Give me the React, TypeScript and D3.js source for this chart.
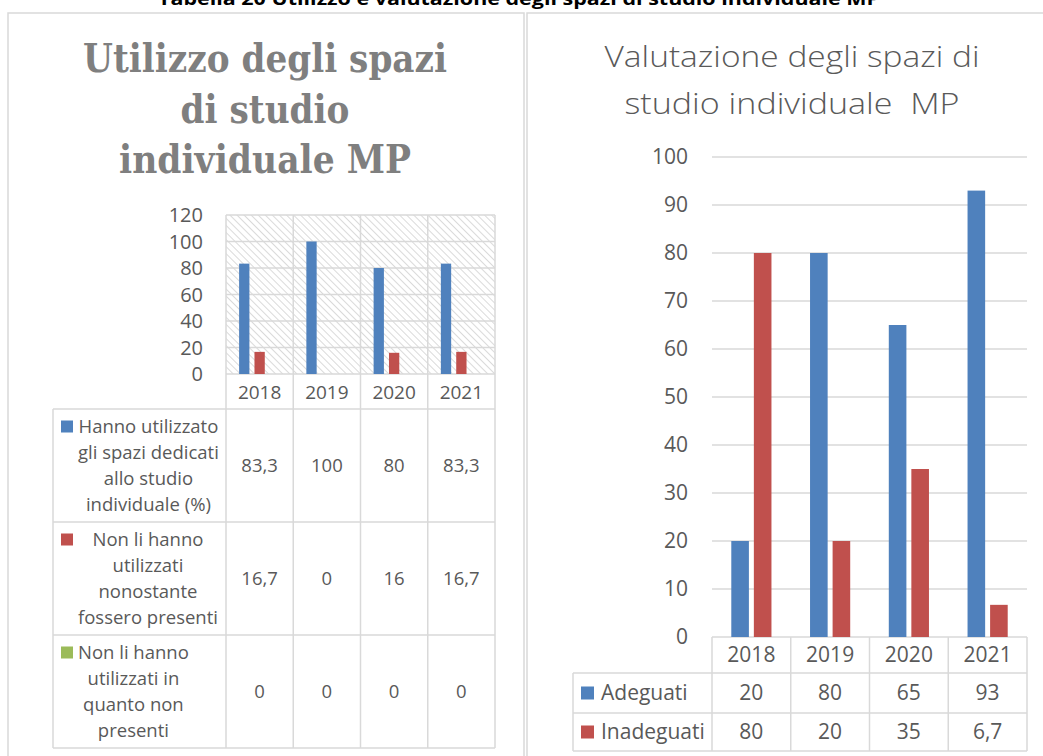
import React, { useRef, useEffect } from "react";
import * as d3 from "d3";

// dati
const years = ["2018", "2019", "2020", "2021"];

const usoKeys = ["utilizzato", "nonUtilizzati", "nonPresenti"];
const usoUtilizzato = [83.3, 100, 80, 83.3];
const usoNonUtilizzati = [16.7, 0, 16, 16.7];
const usoNonPresenti = [0, 0, 0, 0];
const usoLabels = [
  ["Hanno utilizzato", "gli spazi dedicati", "allo studio", "individuale (%)"],
  ["Non li hanno", "utilizzati", "nonostante", "fossero presenti"],
  ["Non li hanno", "utilizzati in", "quanto non", "presenti"],
];
const usoTicks = [0, 20, 40, 60, 80, 100, 120];

const valKeys = ["adeguati", "inadeguati"];
const valAdeguati = [20, 80, 65, 93];
const valInadeguati = [80, 20, 35, 6.7];
const valLabels = ["Adeguati", "Inadeguati"];
const valTicks = [0, 10, 20, 30, 40, 50, 60, 70, 80, 90, 100];

const BLUE = "#4F81BD";
const RED = "#C0504D";
const GREEN = "#9BBB59";
const GRID = "#d9d9d9";
const TXT = "#595959";
const FONT = "'Open Sans', 'Liberation Sans', sans-serif";

const fmt = (v: number) => String(v).replace(".", ",");

const App = () => {
  const svgRef = useRef<SVGSVGElement | null>(null);

  useEffect(() => {
    if (!svgRef.current) return;
    const svg = d3.select(svgRef.current);
    svg.selectAll("*").remove();

    // pattern tratteggio
    const defs = svg.append("defs");
    const pat = defs
      .append("pattern")
      .attr("id", "hatch")
      .attr("width", 5)
      .attr("height", 5)
      .attr("patternUnits", "userSpaceOnUse")
      .attr("patternTransform", "rotate(-45)");
    pat.append("rect").attr("width", 5).attr("height", 5).attr("fill", "#fff");
    pat
      .append("line")
      .attr("x1", 0)
      .attr("y1", 0)
      .attr("x2", 0)
      .attr("y2", 5)
      .attr("stroke", "#dadada")
      .attr("stroke-width", 2);

    // titolo generale (tagliato in alto come nell'originale)
    svg
      .append("text")
      .attr("x", 519)
      .attr("y", 5)
      .attr("text-anchor", "middle")
      .attr("textLength", 722)
      .attr("lengthAdjust", "spacingAndGlyphs")
      .style("font-family", FONT)
      .style("font-weight", "bold")
      .style("font-size", "17px")
      .style("fill", "#000")
      .text("Tabella 20 Utilizzo e valutazione degli spazi di studio individuale MP");

    // cornici pannelli
    const frame = (x1: number, x2: number) => {
      svg
        .append("path")
        .attr("d", `M${x1},760V13H${x2}V760`)
        .attr("fill", "none")
        .attr("stroke", GRID)
        .attr("stroke-width", 1.5);
    };
    frame(8, 524);
    frame(527, 1046);

    // ===== pannello sinistro =====
    const left = svg.append("g");
    const ltitle = [
      ["Utilizzo degli spazi", 72, 364],
      ["di studio", 123, 169],
      ["individuale MP", 173, 292],
    ] as [string, number, number][];
    ltitle.forEach(([t, y, w]) => {
      left
        .append("text")
        .attr("x", 265)
        .attr("y", y)
        .attr("text-anchor", "middle")
        .attr("textLength", w)
        .attr("lengthAdjust", "spacingAndGlyphs")
        .style("font-family", "'DejaVu Serif', 'Liberation Serif', serif")
        .style("font-weight", "bold")
        .style("font-size", "40px")
        .style("fill", "#7f7f7f")
        .text(t);
    });

    const lx = d3.scaleBand().domain(years).range([226, 495]);
    const ly = d3.scaleLinear().domain([0, 120]).range([374, 215]);
    const lbw = lx.bandwidth();
    const lsub = d3
      .scaleBand()
      .domain(usoKeys)
      .range([lbw * 0.195, lbw * 0.805])
      .paddingInner(0.33);

    left
      .append("rect")
      .attr("x", 226)
      .attr("y", ly(120))
      .attr("width", 495 - 226)
      .attr("height", ly(0) - ly(120))
      .attr("fill", "url(#hatch)");

    left
      .selectAll(".grid")
      .data(usoTicks)
      .enter()
      .append("line")
      .attr("x1", 226)
      .attr("x2", 495)
      .attr("y1", (d) => ly(d))
      .attr("y2", (d) => ly(d))
      .attr("stroke", GRID)
      .attr("stroke-width", 1.5);

    left
      .selectAll(".tick")
      .data(usoTicks)
      .enter()
      .append("text")
      .attr("x", 203)
      .attr("y", (d) => ly(d))
      .attr("dy", "0.35em")
      .attr("text-anchor", "end")
      .style("font-family", FONT)
      .style("font-size", "20px")
      .style("fill", TXT)
      .text((d) => d);

    const usoData = years.map((y, i) => ({
      year: y,
      utilizzato: usoUtilizzato[i],
      nonUtilizzati: usoNonUtilizzati[i],
      nonPresenti: usoNonPresenti[i],
    }));
    const usoColors = [BLUE, RED, GREEN];

    usoKeys.forEach((k, si) => {
      left
        .selectAll(`.bar-${k}`)
        .data(usoData)
        .enter()
        .append("rect")
        .attr("x", (d) => (lx(d.year) as number) + (lsub(k) as number))
        .attr("width", lsub.bandwidth())
        .attr("y", (d: any) => ly(d[k]))
        .attr("height", (d: any) => ly(0) - ly(d[k]))
        .attr("fill", usoColors[si]);
    });

    // tabella dati sinistra
    const lRows = [409, 522, 635, 748];
    const lCols = [226, ...years.map((y) => (lx(y) as number) + lbw)];
    const tl = (x1: number, y1: number, x2: number, y2: number) =>
      left
        .append("line")
        .attr("x1", x1)
        .attr("y1", y1)
        .attr("x2", x2)
        .attr("y2", y2)
        .attr("stroke", GRID)
        .attr("stroke-width", 1.5);
    lCols.forEach((x) => tl(x, 215, x, 748));
    lRows.forEach((y) => tl(53, y, 495, y));
    tl(53, 409, 53, 748);

    years.forEach((y) => {
      left
        .append("text")
        .attr("x", (lx(y) as number) + lbw / 2)
        .attr("y", 392)
        .attr("dy", "0.35em")
        .attr("text-anchor", "middle")
        .style("font-family", FONT)
        .style("font-size", "19px")
        .style("fill", TXT)
        .text(y);
    });

    const usoValues = [usoUtilizzato, usoNonUtilizzati, usoNonPresenti];
    usoLabels.forEach((lines, ri) => {
      const mid = (lRows[ri] + lRows[ri + 1]) / 2;
      left
        .append("rect")
        .attr("x", 61)
        .attr("y", mid - 45)
        .attr("width", 12)
        .attr("height", 12)
        .attr("fill", usoColors[ri]);
      const g = left.append("g");
      const texts = lines.map((ln, li) =>
        g
          .append("text")
          .attr("y", mid - 39 + li * 26 + 6)
          .attr("text-anchor", "middle")
          .style("font-family", FONT)
          .style("font-size", "18.5px")
          .style("fill", TXT)
          .text(ln)
      );
      const maxW = d3.max(texts, (t) => (t.node() as SVGTextElement).getComputedTextLength()) || 0;
      let cx = 78 + maxW / 2;
      if (cx + maxW / 2 > 222) cx = 222 - maxW / 2;
      texts.forEach((t) => t.attr("x", cx));

      years.forEach((y, ci) => {
        left
          .append("text")
          .attr("x", (lx(y) as number) + lbw / 2)
          .attr("y", mid)
          .attr("dy", "0.35em")
          .attr("text-anchor", "middle")
          .style("font-family", FONT)
          .style("font-size", "18.5px")
          .style("fill", TXT)
          .text(fmt(usoValues[ri][ci]));
      });
    });

    // ===== pannello destro =====
    const right = svg.append("g");
    const rtitle = [
      ["Valutazione degli spazi di", 67, 375],
      ["studio individuale  MP", 114, 335],
    ] as [string, number, number][];
    rtitle.forEach(([t, y, w]) => {
      right
        .append("text")
        .attr("x", 792)
        .attr("y", y)
        .attr("text-anchor", "middle")
        .attr("textLength", w)
        .attr("lengthAdjust", "spacingAndGlyphs")
        .style("font-family", FONT)
        .style("font-weight", 300)
        .style("font-size", "30px")
        .style("fill", TXT)
        .style("white-space", "pre")
        .text(t);
    });

    const rx = d3.scaleBand().domain(years).range([712, 1027]);
    const ry = d3.scaleLinear().domain([0, 100]).range([637, 157]);
    const rbw = rx.bandwidth();
    const rsub = d3
      .scaleBand()
      .domain(valKeys)
      .range([rbw * 0.245, rbw * 0.755])
      .paddingInner(0.22);

    right
      .selectAll(".grid")
      .data(valTicks)
      .enter()
      .append("line")
      .attr("x1", 712)
      .attr("x2", 1027)
      .attr("y1", (d) => ry(d))
      .attr("y2", (d) => ry(d))
      .attr("stroke", GRID)
      .attr("stroke-width", 1.5);

    right
      .selectAll(".tick")
      .data(valTicks)
      .enter()
      .append("text")
      .attr("x", 688)
      .attr("y", (d) => ry(d))
      .attr("dy", "0.35em")
      .attr("text-anchor", "end")
      .style("font-family", FONT)
      .style("font-size", "21px")
      .style("fill", TXT)
      .text((d) => d);

    const valData = years.map((y, i) => ({
      year: y,
      adeguati: valAdeguati[i],
      inadeguati: valInadeguati[i],
    }));
    const valColors = [BLUE, RED];
    valKeys.forEach((k, si) => {
      right
        .selectAll(`.bar-${k}`)
        .data(valData)
        .enter()
        .append("rect")
        .attr("x", (d) => (rx(d.year) as number) + (rsub(k) as number))
        .attr("width", rsub.bandwidth())
        .attr("y", (d: any) => ry(d[k]))
        .attr("height", (d: any) => ry(0) - ry(d[k]))
        .attr("fill", valColors[si]);
    });

    const rRows = [673, 713, 751];
    const rCols = [712, ...years.map((y) => (rx(y) as number) + rbw)];
    const tr = (x1: number, y1: number, x2: number, y2: number) =>
      right
        .append("line")
        .attr("x1", x1)
        .attr("y1", y1)
        .attr("x2", x2)
        .attr("y2", y2)
        .attr("stroke", GRID)
        .attr("stroke-width", 1.5);
    rCols.forEach((x) => tr(x, 637, x, 751));
    rRows.forEach((y) => tr(573, y, 1027, y));
    tr(573, 673, 573, 751);

    years.forEach((y) => {
      right
        .append("text")
        .attr("x", (rx(y) as number) + rbw / 2)
        .attr("y", 655)
        .attr("dy", "0.35em")
        .attr("text-anchor", "middle")
        .style("font-family", FONT)
        .style("font-size", "21px")
        .style("fill", TXT)
        .text(y);
    });

    const valValues = [valAdeguati, valInadeguati];
    valLabels.forEach((lab, ri) => {
      const mid = (rRows[ri] + rRows[ri + 1]) / 2;
      right
        .append("rect")
        .attr("x", 581)
        .attr("y", mid - 6.5)
        .attr("width", 13)
        .attr("height", 13)
        .attr("fill", valColors[ri]);
      right
        .append("text")
        .attr("x", 601)
        .attr("y", mid)
        .attr("dy", "0.35em")
        .style("font-family", FONT)
        .style("font-size", "21px")
        .style("fill", TXT)
        .text(lab);
      years.forEach((y, ci) => {
        right
          .append("text")
          .attr("x", (rx(y) as number) + rbw / 2)
          .attr("y", mid)
          .attr("dy", "0.35em")
          .attr("text-anchor", "middle")
          .style("font-family", FONT)
          .style("font-size", "21px")
          .style("fill", TXT)
          .text(fmt(valValues[ri][ci]));
      });
    });
  }, []);

  return (
    <svg
      ref={svgRef}
      width={1043}
      height={756}
      style={{ position: "absolute", left: 0, top: 0, background: "#fff" }}
    />
  );
};

export default App;
